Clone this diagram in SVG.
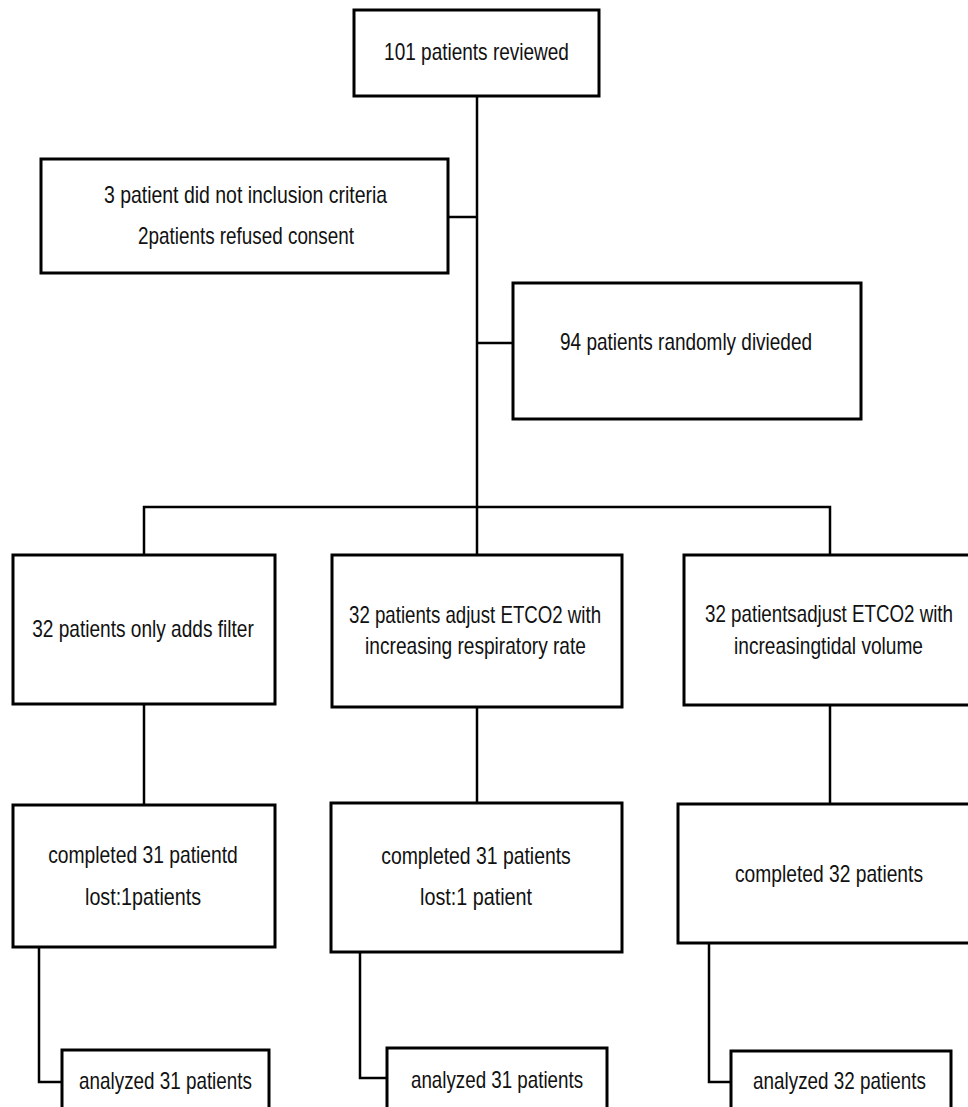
<svg xmlns="http://www.w3.org/2000/svg" width="968" height="1107" viewBox="0 0 968 1107">
<style>
.box{fill:#fff;stroke:#000;stroke-width:3}
.ln{fill:none;stroke:#000;stroke-width:2.5}
text{font-family:"Liberation Sans",Arial,sans-serif;font-size:24px;fill:#111;text-anchor:middle}
</style>
<rect width="968" height="1107" fill="#fff"/>
<g id="connectors">
<path class="ln" d="M477,96 V507"/>
<path class="ln" d="M448,217 H477"/>
<path class="ln" d="M477,343 H513"/>
<path class="ln" d="M144,555 V507 H830 V555 M477,507 V555"/>
<path class="ln" d="M144,704 V805"/>
<path class="ln" d="M477,707 V803"/>
<path class="ln" d="M830,705 V804"/>
<path class="ln" d="M39,947 V1082 H62"/>
<path class="ln" d="M360,952 V1078 H387"/>
<path class="ln" d="M709,943 V1082 H731"/>
</g>
<g id="reviewed">
<rect class="box" x="354" y="10" width="245" height="86"/>
<text transform="translate(476.5,60) scale(0.8,1)" textLength="231" lengthAdjust="spacingAndGlyphs">101 patients reviewed</text>
</g>
<g id="excluded">
<rect class="box" x="41" y="159" width="407" height="114"/>
<text transform="translate(245.5,203) scale(0.8,1)" textLength="354" lengthAdjust="spacingAndGlyphs">3 patient did not inclusion criteria</text>
<text transform="translate(246,244) scale(0.8,1)" textLength="270" lengthAdjust="spacingAndGlyphs">2patients refused consent</text>
</g>
<g id="randomized">
<rect class="box" x="513" y="283" width="348" height="136"/>
<text transform="translate(686,350) scale(0.8,1)" textLength="315" lengthAdjust="spacingAndGlyphs">94 patients randomly divieded</text>
</g>
<g id="groupA">
<rect class="box" x="13" y="555" width="262" height="149"/>
<text transform="translate(143,637) scale(0.8,1)" textLength="277" lengthAdjust="spacingAndGlyphs">32 patients only adds filter</text>
</g>
<g id="groupB">
<rect class="box" x="332" y="555" width="290" height="152"/>
<text transform="translate(475,623) scale(0.8,1)" textLength="315" lengthAdjust="spacingAndGlyphs">32 patients adjust ETCO2 with</text>
<text transform="translate(475.5,654) scale(0.8,1)" textLength="276" lengthAdjust="spacingAndGlyphs">increasing respiratory rate</text>
</g>
<g id="groupC">
<rect class="box" x="684" y="555" width="290" height="150"/>
<text transform="translate(829,622) scale(0.8,1)" textLength="310" lengthAdjust="spacingAndGlyphs">32 patientsadjust ETCO2 with</text>
<text transform="translate(828.5,654) scale(0.8,1)" textLength="236" lengthAdjust="spacingAndGlyphs">increasingtidal volume</text>
</g>
<g id="completedA">
<rect class="box" x="13" y="805" width="262" height="142"/>
<text transform="translate(143,863) scale(0.8,1)" textLength="237" lengthAdjust="spacingAndGlyphs">completed 31 patientd</text>
<text transform="translate(143,905) scale(0.8,1)" textLength="145" lengthAdjust="spacingAndGlyphs">lost:1patients</text>
</g>
<g id="completedB">
<rect class="box" x="331" y="803" width="291" height="149"/>
<text transform="translate(476,864) scale(0.8,1)" textLength="237" lengthAdjust="spacingAndGlyphs">completed 31 patients</text>
<text transform="translate(476,905) scale(0.8,1)" textLength="140" lengthAdjust="spacingAndGlyphs">lost:1 patient</text>
</g>
<g id="completedC">
<rect class="box" x="678" y="804" width="296" height="139"/>
<text transform="translate(829,882) scale(0.8,1)" textLength="235" lengthAdjust="spacingAndGlyphs">completed 32 patients</text>
</g>
<g id="analyzedA">
<rect class="box" x="62" y="1050" width="207" height="70"/>
<text transform="translate(165.5,1089) scale(0.8,1)" textLength="216" lengthAdjust="spacingAndGlyphs">analyzed 31 patients</text>
</g>
<g id="analyzedB">
<rect class="box" x="387" y="1048" width="220" height="72"/>
<text transform="translate(497,1088) scale(0.8,1)" textLength="215" lengthAdjust="spacingAndGlyphs">analyzed 31 patients</text>
</g>
<g id="analyzedC">
<rect class="box" x="731" y="1051" width="220" height="70"/>
<text transform="translate(839.5,1089) scale(0.8,1)" textLength="216" lengthAdjust="spacingAndGlyphs">analyzed 32 patients</text>
</g>
</svg>
